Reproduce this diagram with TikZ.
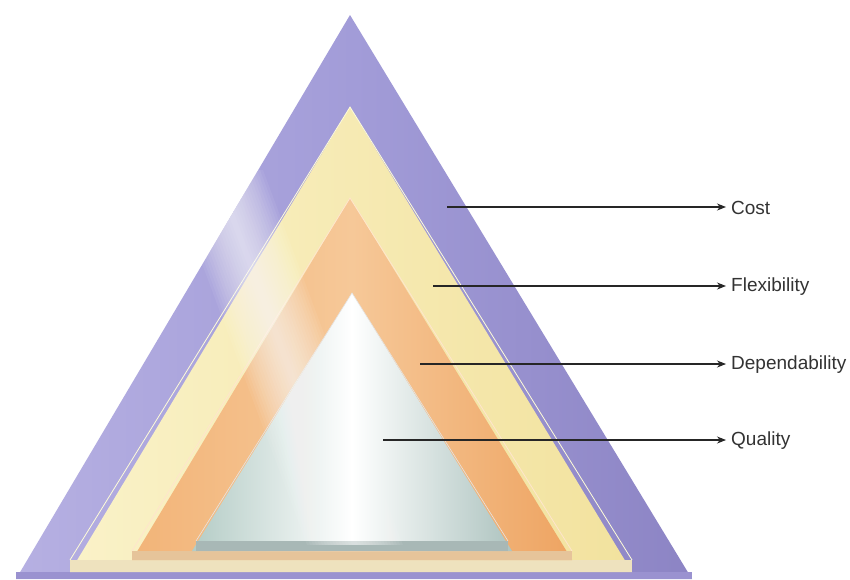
\documentclass[tikz,border=0pt]{standalone}
\usepackage{fontspec}
\setmainfont{Liberation Sans}
\usetikzlibrary{arrows.meta}
\definecolor{purpL}{HTML}{B6B0E2}
\definecolor{purpM}{HTML}{A29CD8}
\definecolor{purpR}{HTML}{8C84C4}
\definecolor{yelL}{HTML}{FAF2C8}
\definecolor{yelR}{HTML}{F2E29E}
\definecolor{orL}{HTML}{F2B478}
\definecolor{orM}{HTML}{F6C898}
\definecolor{orR}{HTML}{EEA462}
\definecolor{grL}{HTML}{B4CCC6}
\definecolor{grR}{HTML}{AEC4C0}
\definecolor{purpBase}{HTML}{9A92D0}
\definecolor{yelBase}{HTML}{EEE2BE}
\definecolor{orBase}{HTML}{E6C49A}
\definecolor{grBase}{HTML}{A8B8B6}
\tikzset{
  pointer/.style={-{Stealth[length=9pt,width=7pt]}, line width=1.1pt, black!85},
  lbl/.style={anchor=west, inner sep=5pt, font=\fontsize{19}{22}\selectfont, text=black!80}
}
\begin{document}
\begin{tikzpicture}[x=1pt,y=-1pt]
\useasboundingbox (0,0) rectangle (850,579);
\fill[white] (0,0) rectangle (850,579);
% outer purple layer
\shade[left color=purpL, right color=purpR, middle color=purpM] (350,15) -- (692,579) -- (16,579) -- cycle;
\fill[purpBase] (16,572) rectangle (692,579);
% yellow layer
\shade[left color=yelL, right color=yelR] (350,107) -- (632,572) -- (70,572) -- cycle;
\fill[yelBase] (70,560) rectangle (632,572);
\draw[white!85!yellow, line width=0.8pt] (70,560) -- (350,107) -- (632,560);
% orange layer
\shade[left color=orL, right color=orR, middle color=orM] (350,198) -- (572,560) -- (132,560) -- cycle;
\fill[orBase] (132,551) rectangle (572,560);
\draw[white!80!orange, line width=0.8pt] (132,551) -- (350,198) -- (572,551);
% grey-green layer
\shade[left color=grL, right color=grR, middle color=white] (352,293) -- (512,551) -- (192,551) -- cycle;
\fill[grBase] (196,541) rectangle (508,551);
\draw[white!80!gray, line width=0.6pt] (196,541) -- (352,293) -- (508,541);
% glare streak
\begin{scope}
\clip (350,15) -- (692,579) -- (16,579) -- cycle;
\foreach \w in {3,6,...,48}
  \fill[white, opacity=0.06] (215-\w,170) -- (215+\w,170) -- (355+\w,545) -- (355-\w,545) -- cycle;
\end{scope}
% arrows and labels
\coordinate (c1) at (447,207);
\coordinate (f1) at (433,286);
\coordinate (d1) at (420,364);
\coordinate (q1) at (383,440);
\node[lbl] (cost) at (726,208) {Cost};
\node[lbl] (flex) at (726,287) {Flexibility};
\node[lbl] (dep) at (726,365) {Dependability};
\node[lbl] (qual) at (726,441) {Quality};
\draw[pointer] (c1) -- (c1 -| cost.west);
\draw[pointer] (f1) -- (f1 -| flex.west);
\draw[pointer] (d1) -- (d1 -| dep.west);
\draw[pointer] (q1) -- (q1 -| qual.west);
\end{tikzpicture}
\end{document}
